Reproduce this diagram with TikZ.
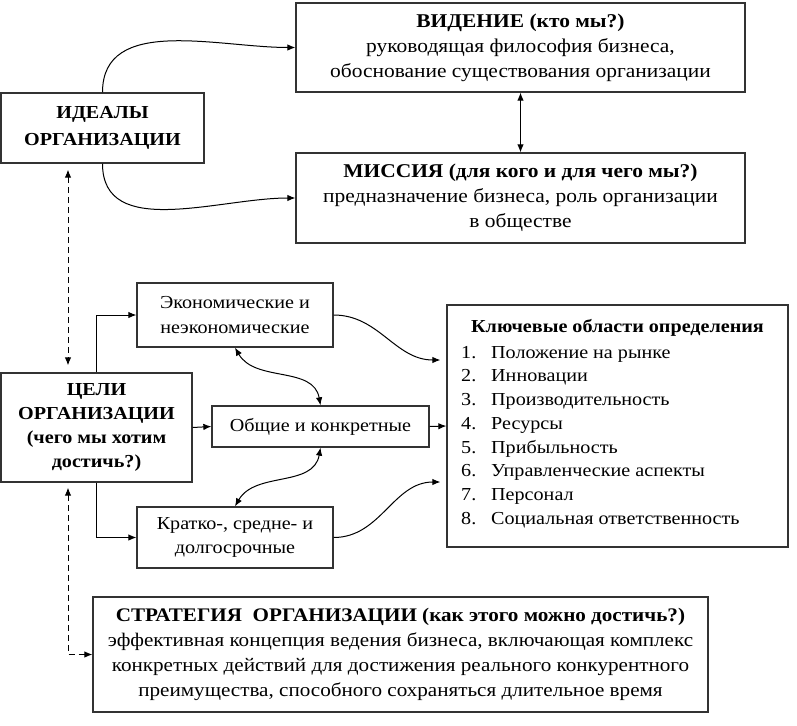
\documentclass[tikz,border=0pt]{standalone}
\usepackage{fontspec}
\setmainfont{Liberation Serif}[FakeStretch=1.1]
\usetikzlibrary{arrows.meta}
\tikzset{
  box/.style={draw=black!80,line width=1.3pt,align=center,inner sep=0pt},
  bigtext/.style={font=\fontsize{19.5}{25}\selectfont},
  smalltext/.style={font=\fontsize{18.3}{24.3}\selectfont},
  conn/.style={line width=1pt,-{Latex[length=8pt,width=6.5pt]}},
  biconn/.style={line width=1pt,{Latex[length=8pt,width=6.5pt]}-{Latex[length=8pt,width=6.5pt]}},
  dconn/.style={line width=1pt,dash pattern=on 6pt off 4pt}
}
\begin{document}
\begin{tikzpicture}[x=1pt,y=-1pt]
\useasboundingbox (0,0) rectangle (797,725);
% upper part
\node[box,bigtext,minimum width=449pt,minimum height=89pt] (vision) at (520.5,47.5)
  {\textbf{ВИДЕНИЕ (кто мы?)}\\руководящая\ философия бизнеса,\\обоснование существования организации};
\node[box,bigtext,minimum width=449pt,minimum height=90pt] (mission) at (520.5,198)
  {\textbf{МИССИЯ (для кого и для чего мы?)}\\предназначение бизнеса, роль организации\\в обществе};
\node[box,smalltext,minimum width=203pt,minimum height=70pt] (ideal) at (102.5,128)
  {\textbf{ИДЕАЛЫ}\\[3pt]\textbf{ОРГАНИЗАЦИИ}};
\draw[conn] (ideal.north) to[out=90,in=180] (vision.west);
\draw[conn] (ideal.south) to[out=-90,in=180] (mission.west);
\draw[biconn] (vision.south) -- (mission.north);
% goals
\node[box,smalltext,minimum width=191pt,minimum height=109pt] (goals) at (96.5,427.5)
  {\textbf{ЦЕЛИ}\\\textbf{ОРГАНИЗАЦИИ}\\\textbf{(чего мы хотим}\\\textbf{достичь?)}};
\node[box,smalltext,minimum width=196pt,minimum height=64pt] (econ) at (235,315)
  {Экономические и\\неэкономические};
\node[box,smalltext,minimum width=217pt,minimum height=41pt] (general) at (320.5,426.5)
  {Общие и конкретные};
\node[box,smalltext,minimum width=196pt,minimum height=61pt] (short) at (235,537.5)
  {Кратко-, средне- и\\долгосрочные};
\draw[conn] (goals.north) |- (econ.west);
\draw[conn] (goals.south) |- (short.west);
\draw[conn] (goals.east) -- (general.west);
\draw[biconn] (econ.south) to[out=-60,in=100] (general.north);
\draw[biconn] (general.south) to[out=-100,in=60] (short.north);
% key areas
\node[box,minimum width=341pt,minimum height=242pt] (key) at (617.5,426) {};
\node[smalltext] (keytitle) at (617.5,328) {\textbf{Ключевые области определения}};
\foreach \txt [count=\i] in {Положение на рынке,Инновации,Производительность,Ресурсы,
  Прибыльность,Управленческие аспекты,Персонал,Социальная ответственность}{
  \node[smalltext,anchor=base west,inner sep=0pt] (num\i) at (461,{334.5+23.7*\i}) {\i.};
  \node[smalltext,anchor=base west,inner sep=0pt] (item\i) at (491,{334.5+23.7*\i}) {\txt};
}
\coordinate (keyin1) at (key.west |- 0,360);
\coordinate (keyin3) at (key.west |- 0,482);
\draw[conn] (econ.east) to[out=0,in=180] ([xshift=-6pt]keyin1);
\draw[conn] (general.east) -- (key.west);
\draw[conn] (short.east) to[out=0,in=180] ([xshift=-6pt]keyin3);
% strategy
\node[box,font=\fontsize{19.2}{25}\selectfont,minimum width=615pt,minimum height=115pt] (strategy) at (400.5,654.5)
  {\textbf{СТРАТЕГИЯ\ \ ОРГАНИЗАЦИИ (как этого можно достичь?)}\\
   эффективная концепция ведения бизнеса, включающая комплекс\\
   конкретных действий для достижения реального конкурентного\\
   преимущества, способного сохраняться длительное время};
% dashed links
\coordinate (dtop) at ([xshift=-34.5pt]ideal.south);
\coordinate (dmid) at (dtop |- goals.north);
\coordinate (dbot) at (dtop |- goals.south);
\draw[dconn,{Latex[length=8pt,width=6.5pt]}-{Latex[length=8pt,width=6.5pt]},shorten <=6pt,shorten >=7pt] (dtop) -- (dmid);
\draw[dconn,{Latex[length=8pt,width=6.5pt]}-{Latex[length=8pt,width=6.5pt]},shorten <=5pt] (dbot) |- (strategy.west);
\end{tikzpicture}
\end{document}
